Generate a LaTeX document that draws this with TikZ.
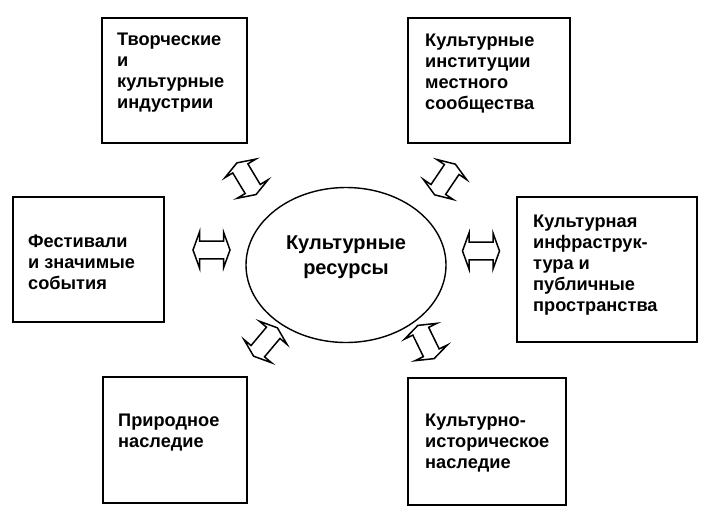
\documentclass[tikz,border=0pt]{standalone}
\usepackage{fontspec}
\setmainfont{Liberation Sans}
\usetikzlibrary{shapes.geometric}
\tikzset{
  box/.style={draw=black, line width=1.9pt, rectangle, inner sep=0pt},
  lbl/.style={anchor=base west, align=left, inner sep=0pt, font=\bfseries\fontsize{18.2}{21}\selectfont},
  cen/.style={align=center, inner sep=0pt, font=\bfseries\fontsize{20}{25}\selectfont},
  arrowline/.style={draw=black, line width=1.5pt, line join=miter, fill=white},
  dbl/.pic={\path[arrowline] (-18.5,0) -- (-12,18) -- (-12,8.8) -- (12,8.8) -- (12,18) -- (18.5,0) -- (12,-18) -- (12,-8.8) -- (-12,-8.8) -- (-12,-18) -- cycle;}
}
\begin{document}
\begin{tikzpicture}[x=1pt,y=-1pt]
\useasboundingbox (0,0) rectangle (709,514);
\fill[white] (0,0) rectangle (709,514);
% boxes
\node[box, minimum width=145pt, minimum height=125pt] (b1) at (174.5,80.5) {};
\node[box, minimum width=162pt, minimum height=125pt] (b2) at (489,80.5) {};
\node[box, minimum width=151pt, minimum height=125pt] (b3) at (88.5,259.5) {};
\node[box, minimum width=180pt, minimum height=145pt] (b4) at (607,269.5) {};
\node[box, minimum width=144pt, minimum height=126pt] (b5) at (175,440) {};
\node[box, minimum width=158pt, minimum height=127pt] (b6) at (487,441.5) {};
% ellipse
\node[ellipse, draw=black, line width=1.4pt, minimum width=200pt, minimum height=155pt, inner sep=0pt] (c) at (346,265) {};
% texts (anchor at baseline of last line)
\node[lbl] (t1) at (117,108) {Творческие\\и\\культурные\\индустрии};
\node[lbl] (t2) at (425,109) {Культурные\\институции\\местного\\сообщества};
\node[lbl] (t3) at (28,289) {Фестивали\\и значимые\\события};
\node[lbl] (t4) at (533,311) {Культурная\\инфраструк-\\тура и\\публичные\\пространства};
\node[lbl] (t5) at (118,447) {Природное\\наследие};
\node[lbl] (t6) at (425,468) {Культурно-\\историческое\\наследие};
\node[cen] (tc) at (346,257) {Культурные\\ресурсы};
% arrows
\pic (a1) [rotate=-59] at (246.5,178.7) {dbl};
\pic (a2) [rotate=56] at (445,179.5) {dbl};
\pic (a3) [rotate=50] at (265.5,342) {dbl};
\pic (a4) [rotate=-64] at (426,342) {dbl};
\pic (a5) at (211.5,250) {dbl};
\pic (a6) at (481,251) {dbl};
\end{tikzpicture}
\end{document}
